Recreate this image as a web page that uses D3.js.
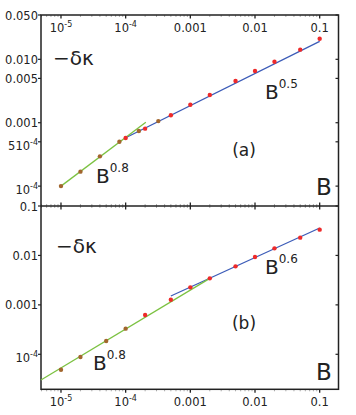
<!DOCTYPE html>
<html>
<head>
<meta charset="utf-8">
<script src="https://cdn.jsdelivr.net/npm/d3@7"></script>
<style>
  body { margin: 0; background: #fff; }
  text { font-family: "DejaVu Sans", sans-serif; fill: #222; }
</style>
</head>
<body>
<svg id="chart" width="356" height="415"></svg>
<script>
// tick values and labels ([main, superscript])
const xTicks = [1e-5, 1e-4, 1e-3, 1e-2, 1e-1]
const xTickLabels = [["10", "-5"], ["10", "-4"], ["0.001", ""], ["0.01", ""], ["0.1", ""]]
const topYTicks = [0.05, 0.01, 0.005, 0.001, 5e-4, 1e-4]
const topYTickLabels = [["0.050", ""], ["0.010", ""], ["0.005", ""], ["0.001", ""], ["510", "-4"], ["10", "-4"]]
const botYTicks = [0.1, 0.01, 0.001, 1e-4]
const botYTickLabels = [["0.1", ""], ["0.01", ""], ["0.001", ""], ["10", "-4"]]

// panel (a) data
const topBrownB = [1e-5, 2e-5, 4e-5, 8e-5, 1.6e-4, 3.2e-4]
const topBrownV = [1.0e-4, 1.69e-4, 2.95e-4, 5.02e-4, 7.40e-4, 1.06e-3]
const topRedB = [1e-4, 2e-4, 5e-4, 1e-3, 2e-3, 5e-3, 0.01, 0.02, 0.05, 0.1]
const topRedV = [5.74e-4, 8.06e-4, 1.31e-3, 1.92e-3, 2.74e-3, 4.55e-3, 6.55e-3, 9.16e-3, 1.42e-2, 2.11e-2]
const topGreenB = [1e-5, 2.05e-4]
const topGreenV = [1.0e-4, 1.02e-3]
const topBlueB = [1e-4, 0.1]
const topBlueV = [5.8e-4, 1.92e-2]

// panel (b) data
const botBrownB = [1e-5, 2e-5, 5e-5, 1e-4]
const botBrownV = [4.88e-5, 8.81e-5, 1.86e-4, 3.30e-4]
const botRedB = [2e-4, 5e-4, 1e-3, 2e-3, 5e-3, 0.01, 0.02, 0.05, 0.1]
const botRedV = [6.24e-4, 1.27e-3, 2.26e-3, 3.44e-3, 6.02e-3, 9.29e-3, 1.39e-2, 2.29e-2, 3.32e-2]
const botGreenB = [4.9e-6, 2e-3]
const botGreenV = [3.02e-5, 3.44e-3]
const botBlueB = [5e-4, 0.1]
const botBlueV = [1.51e-3, 3.59e-2]

const svg = d3.select("#chart")
const mLeft = 41, mRight = 338.5, mTop = 15, mMid = 206, mBottom = 389.3

const x = d3.scaleLog().domain([10 ** -5.309, 10 ** -0.709]).range([mLeft, mRight])
const yTop = d3.scaleLog().domain([10 ** -4.3136, 0.05]).range([mMid, mTop])
const yBot = d3.scaleLog().domain([10 ** -4.708, 0.1]).range([mBottom, mMid])

const frameColor = "#222"
const green = "#7cc242", blue = "#3c5cb8", red = "#ee2a2a", brown = "#a2662e"

// minor ticks on x
const minor = []
for (let e = -6; e <= -1; e++) {
    for (let m = 2; m <= 9; m++) {
        let v = m * 10 ** e
        if (v > x.domain()[0] && v < x.domain()[1]) minor.push(v)
    }
}

function xTicksAt(y, up, down) {
    let g = svg.append("g")
    g.selectAll(".minor").data(minor).enter().append("line")
        .attr("x1", d => x(d)).attr("x2", d => x(d))
        .attr("y1", y - (up ? 2 : 0)).attr("y2", y + (down ? 2 : 0))
        .attr("stroke", "#999").attr("stroke-width", 0.8)
    g.selectAll(".major").data(xTicks).enter().append("line")
        .attr("x1", d => x(d)).attr("x2", d => x(d))
        .attr("y1", y - (up ? 3.5 : 0)).attr("y2", y + (down ? 3.5 : 0))
        .attr("stroke", frameColor).attr("stroke-width", 1.3)
}

function yTicksFor(scale, ticks, labels) {
    let g = svg.append("g")
    g.selectAll(".l").data(ticks).enter().append("line")
        .attr("x1", mLeft - 3).attr("x2", mLeft)
        .attr("y1", d => scale(d)).attr("y2", d => scale(d))
        .attr("stroke", frameColor).attr("stroke-width", 1.2)
    g.selectAll(".r").data(ticks).enter().append("line")
        .attr("x1", mRight - 3).attr("x2", mRight)
        .attr("y1", d => scale(d)).attr("y2", d => scale(d))
        .attr("stroke", frameColor).attr("stroke-width", 1.2)
    let t = g.selectAll("text").data(ticks).enter().append("text")
        .attr("x", 38)
        .attr("y", (d, i) => scale(d) + (labels[i][1] ? 8 : 4.5))
        .attr("text-anchor", "end")
        .style("font-size", "11.5px")
    t.append("tspan").text((d, i) => labels[i][0])
    t.append("tspan").attr("dy", -5).style("font-size", "8px").text((d, i) => labels[i][1])
}

function xLabels(y) {
    let t = svg.append("g").selectAll("text").data(xTicks).enter().append("text")
        .attr("x", d => x(d)).attr("y", y)
        .attr("text-anchor", "middle")
        .style("font-size", "11.5px")
    t.append("tspan").text((d, i) => xTickLabels[i][0])
    t.append("tspan").attr("dy", -5).style("font-size", "8px").text((d, i) => xTickLabels[i][1])
}

// ticks and frame
xTicksAt(mTop, false, true)
xTicksAt(mMid, true, true)
xTicksAt(mBottom, false, true)
yTicksFor(yTop, topYTicks, topYTickLabels)
yTicksFor(yBot, botYTicks, botYTickLabels)
xLabels(32)
xLabels(406)

svg.append("rect")
    .attr("x", mLeft).attr("y", mTop)
    .attr("width", mRight - mLeft).attr("height", mBottom - mTop)
    .attr("fill", "none").attr("stroke", frameColor).attr("stroke-width", 1.5)
svg.append("line")
    .attr("x1", mLeft).attr("x2", mRight).attr("y1", mMid).attr("y2", mMid)
    .attr("stroke", frameColor).attr("stroke-width", 1.5)

function panel(y, greenB, greenV, blueB, blueV, brownB, brownV, redB, redV) {
    let g = svg.append("g")
    let line = d3.line().x(d => x(d[0])).y(d => y(d[1]))
    g.append("path").datum(d3.zip(blueB, blueV)).attr("d", line)
        .attr("fill", "none").attr("stroke", blue).attr("stroke-width", 1.3)
    g.append("path").datum(d3.zip(greenB, greenV)).attr("d", line)
        .attr("fill", "none").attr("stroke", green).attr("stroke-width", 1.3)
    g.selectAll(".red").data(d3.zip(redB, redV)).enter().append("circle")
        .attr("cx", d => x(d[0])).attr("cy", d => y(d[1])).attr("r", 2.2)
        .attr("fill", red)
    g.selectAll(".brown").data(d3.zip(brownB, brownV)).enter().append("circle")
        .attr("cx", d => x(d[0])).attr("cy", d => y(d[1])).attr("r", 2.2)
        .attr("fill", brown)
}

panel(yTop, topGreenB, topGreenV, topBlueB, topBlueV, topBrownB, topBrownV, topRedB, topRedV)
panel(yBot, botGreenB, botGreenV, botBlueB, botBlueV, botBrownB, botBrownV, botRedB, botRedV)

// annotations
function power(xp, yp, exp) {
    let t = svg.append("text").attr("x", xp).attr("y", yp).style("font-size", "20px")
    t.append("tspan").text("B")
    t.append("tspan").attr("dy", -11).style("font-size", "12px").text(exp)
}
power(96, 183, "0.8")
power(265, 99, "0.5")
power(93, 370, "0.8")
power(265, 274, "0.6")

svg.append("text").attr("x", 53).attr("y", 65).style("font-size", "20px").text("\u2212\u03b4\u03ba")
svg.append("text").attr("x", 56).attr("y", 253).style("font-size", "20px").text("\u2212\u03b4\u03ba")
svg.append("text").attr("x", 244).attr("y", 156).attr("text-anchor", "middle").style("font-size", "17px").text("(a)")
svg.append("text").attr("x", 244).attr("y", 329).attr("text-anchor", "middle").style("font-size", "17px").text("(b)")
svg.append("text").attr("x", 316).attr("y", 195).style("font-size", "23px").text("B")
svg.append("text").attr("x", 316).attr("y", 380).style("font-size", "23px").text("B")
</script>
</body>
</html>
